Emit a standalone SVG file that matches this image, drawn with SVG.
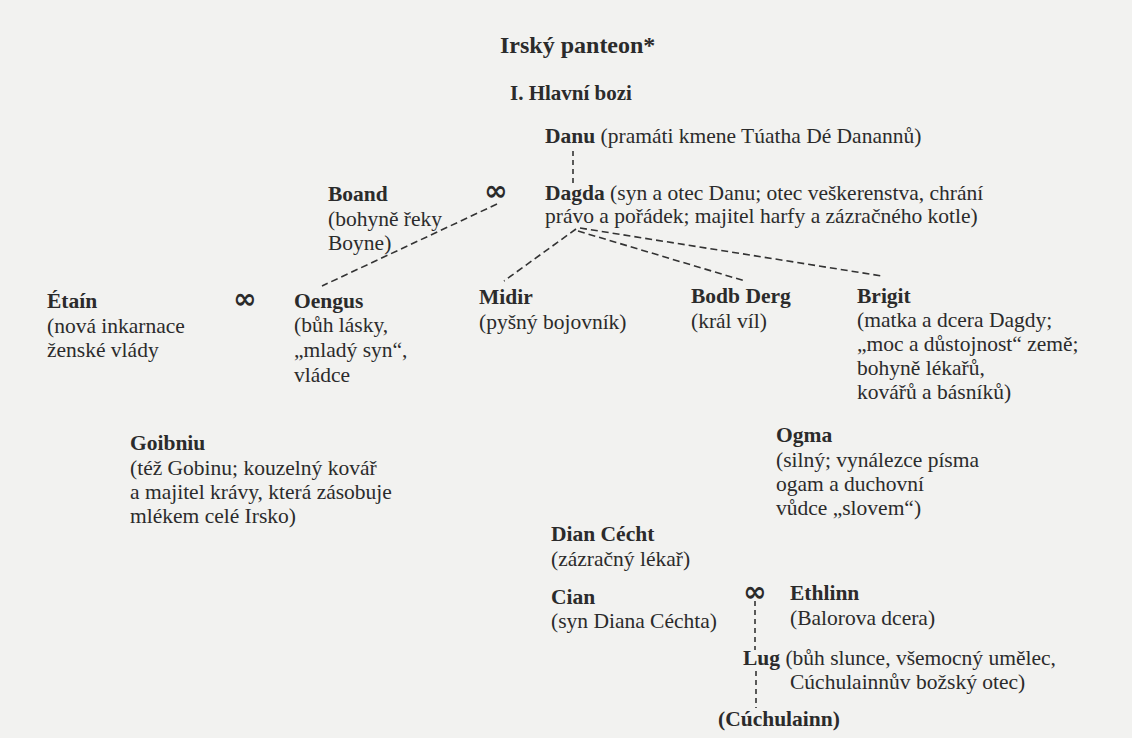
<svg xmlns="http://www.w3.org/2000/svg" width="1132" height="738" viewBox="0 0 1132 738" font-family="Liberation Serif, DejaVu Serif, serif">
<style>
text{font-family:"Liberation Serif","DejaVu Serif",serif;fill:#2b2b2b;font-size:21.5px}
.n{font-weight:bold}
.t{font-weight:bold;font-size:24px}
.h{font-weight:bold;font-size:21px}
.m{font-family:"DejaVu Sans",sans-serif;font-weight:bold;font-size:28px}
.c{stroke:#333;stroke-width:1.6;stroke-dasharray:7 4;fill:none}
.v{stroke:#333;stroke-width:1.6;stroke-dasharray:5 4;fill:none}
</style>
<rect width="1132" height="738" fill="#f2f2f0"/>
<text class="t" x="500" y="53">Irský panteon*</text>
<text class="h" x="510" y="100">I. Hlavní bozi</text>
<g id="connectors">
<line class="v" x1="573" y1="151" x2="573" y2="185"/>
<line class="c" x1="497" y1="204" x2="322" y2="286"/>
<line class="c" x1="576" y1="229" x2="504" y2="281"/>
<line class="c" x1="578" y1="231" x2="745" y2="281"/>
<line class="c" x1="580" y1="228" x2="882" y2="276"/>
<line class="v" x1="755" y1="601" x2="755" y2="650"/>
<line class="v" x1="756" y1="671" x2="756" y2="708"/>
</g>
<g id="marriages">
<text class="m" x="484" y="200">∞</text>
<text class="m" x="233" y="308">∞</text>
<text class="m" x="743" y="601">∞</text>
</g>
<g id="danu"><text x="545" y="143"><tspan class="n">Danu</tspan> (pramáti kmene Túatha Dé Danannů)</text></g>
<g id="boand">
<text class="n" x="328" y="201">Boand</text>
<text x="328" y="226">(bohyně řeky</text>
<text x="328" y="250">Boyne)</text>
</g>
<g id="dagda">
<text x="545" y="200"><tspan class="n">Dagda</tspan> (syn a otec Danu; otec veškerenstva, chrání</text>
<text x="545" y="223">právo a pořádek; majitel harfy a zázračného kotle)</text>
</g>
<g id="etain">
<text class="n" x="47" y="308">Étaín</text>
<text x="47" y="333">(nová inkarnace</text>
<text x="47" y="357">ženské vlády</text>
</g>
<g id="oengus">
<text class="n" x="294" y="308">Oengus</text>
<text x="294" y="332">(bůh lásky,</text>
<text x="294" y="357">„mladý syn“,</text>
<text x="294" y="382">vládce</text>
</g>
<g id="midir">
<text class="n" x="479" y="304">Midir</text>
<text x="479" y="329">(pyšný bojovník)</text>
</g>
<g id="bodb-derg">
<text class="n" x="691" y="303">Bodb Derg</text>
<text x="691" y="328">(král víl)</text>
</g>
<g id="brigit">
<text class="n" x="857" y="303">Brigit</text>
<text x="857" y="327">(matka a dcera Dagdy;</text>
<text x="857" y="351">„moc a důstojnost“ země;</text>
<text x="857" y="375">bohyně lékařů,</text>
<text x="857" y="399">kovářů a básníků)</text>
</g>
<g id="goibniu">
<text class="n" x="130" y="450">Goibniu</text>
<text x="130" y="475">(též Gobinu; kouzelný kovář</text>
<text x="130" y="499">a majitel krávy, která zásobuje</text>
<text x="130" y="523">mlékem celé Irsko)</text>
</g>
<g id="ogma">
<text class="n" x="776" y="442">Ogma</text>
<text x="776" y="467">(silný; vynálezce písma</text>
<text x="776" y="491">ogam a duchovní</text>
<text x="776" y="515">vůdce „slovem“)</text>
</g>
<g id="dian-cecht">
<text class="n" x="551" y="541">Dian Cécht</text>
<text x="551" y="566">(zázračný lékař)</text>
</g>
<g id="cian">
<text class="n" x="551" y="604">Cian</text>
<text x="551" y="628">(syn Diana Céchta)</text>
</g>
<g id="ethlinn">
<text class="n" x="790" y="600">Ethlinn</text>
<text x="790" y="625">(Balorova dcera)</text>
</g>
<g id="lug">
<text x="743" y="665"><tspan class="n">Lug</tspan> (bůh slunce, všemocný umělec,</text>
<text x="790" y="689">Cúchulainnův božský otec)</text>
</g>
<g id="cuchulainn"><text class="n" x="718" y="726">(Cúchulainn)</text></g>
</svg>
